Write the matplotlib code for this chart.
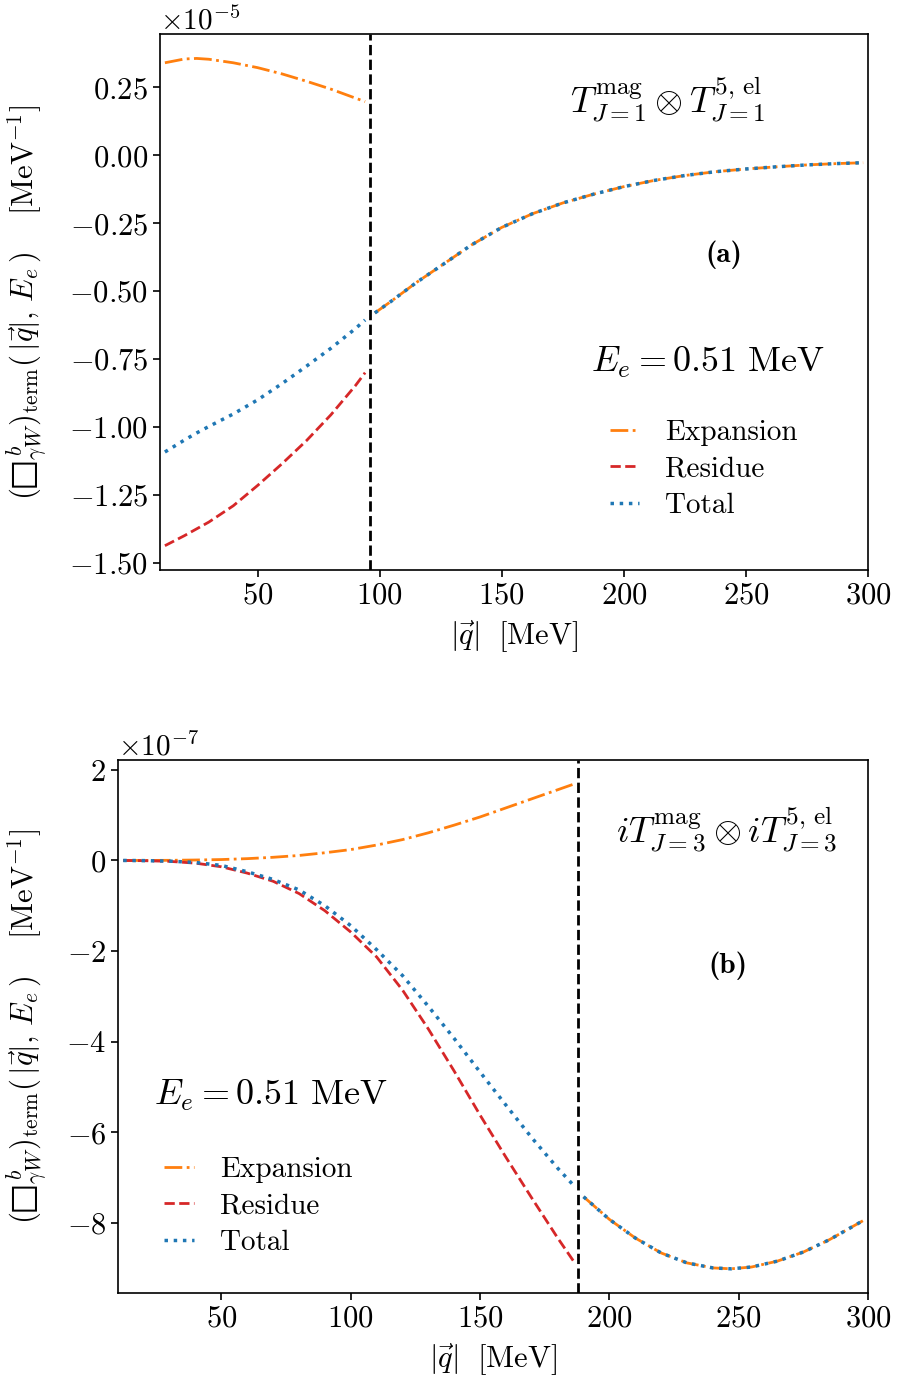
import matplotlib
matplotlib.use("Agg")
import matplotlib.pyplot as plt
import matplotlib.ticker as mticker
import numpy as np

plt.rcParams['font.family'] = 'serif'
plt.rcParams['font.serif'] = ['cmr10']
plt.rcParams['mathtext.fontset'] = 'cm'
plt.rcParams['axes.formatter.use_mathtext'] = True

# (a) T^mag_{J=1} x T^{5,el}_{J=1}, valores en 1e-5 MeV^-1
q_a_izq = [12, 20, 25, 30, 40, 50, 60, 70, 80, 90, 94]
exp_a_izq = [0.341, 0.355, 0.357, 0.354, 0.341, 0.323, 0.300, 0.273, 0.244, 0.211, 0.198]
res_a_izq = [-1.437, -1.400, -1.375, -1.350, -1.290, -1.215, -1.135, -1.050, -0.955, -0.848, -0.800]
tot_a_izq = [-1.092, -1.048, -1.022, -0.998, -0.952, -0.900, -0.840, -0.776, -0.710, -0.638, -0.606]
q_a_der = [98, 105, 115, 125, 137.5, 150, 162.5, 175, 187.5, 200, 212.5, 225, 237.5, 250, 262.5, 275, 287.5, 298]
tot_a_der = [-0.580, -0.535, -0.468, -0.407, -0.330, -0.265, -0.215, -0.175, -0.143, -0.115,
             -0.092, -0.074, -0.060, -0.050, -0.042, -0.035, -0.030, -0.027]
corte_a = 96

# (b) iT^mag_{J=3} x iT^{5,el}_{J=3}, valores en 1e-7 MeV^-1
q_b_izq = [12, 20, 30, 40, 50, 60, 70, 80, 90, 100, 110, 120, 130, 140, 150, 160, 170, 180, 186]
exp_b_izq = [0.0, 0.0, 0.003, 0.01, 0.02, 0.04, 0.07, 0.11, 0.17, 0.24, 0.34, 0.46, 0.61, 0.78,
             0.96, 1.16, 1.36, 1.56, 1.68]
res_b_izq = [0.0, -0.005, -0.02, -0.06, -0.14, -0.28, -0.46, -0.73, -1.11, -1.58, -2.13, -2.86,
             -3.72, -4.65, -5.62, -6.55, -7.45, -8.33, -8.83]
tot_b_izq = [0.0, -0.004, -0.015, -0.045, -0.11, -0.25, -0.42, -0.65, -1.00, -1.44, -1.97, -2.54,
             -3.22, -3.93, -4.67, -5.40, -6.12, -6.79, -7.16]
q_b_der = [190, 200, 210, 220, 230, 240, 247, 255, 265, 275, 285, 298]
tot_b_der = [-7.42, -7.92, -8.33, -8.66, -8.88, -8.99, -9.01, -8.97, -8.84, -8.64, -8.37, -7.95]
corte_b = 188

c_exp = '#ff7f0e'
c_res = '#d62728'
c_tot = '#1f77b4'
lw = 2.0

fig = plt.figure(figsize=(8.97, 13.85), dpi=100)
ax1 = fig.add_axes([0.1784, 0.5884, 0.7893, 0.3870])
ax2 = fig.add_axes([0.1316, 0.0664, 0.8361, 0.3848])

ylab = "$(\u25a1^{\\,b}_{\\gamma W})_{\\rm term}(\\,|\\vec{q}|,\\,E_e\\,)\\quad\\ [{\\rm MeV}^{-1}]$"
xlab = r"$|\vec{q}|\ \ [{\rm MeV}]$"

paneles = [
    (ax1, q_a_izq, exp_a_izq, res_a_izq, tot_a_izq, q_a_der, tot_a_der, corte_a, 1e-5),
    (ax2, q_b_izq, exp_b_izq, res_b_izq, tot_b_izq, q_b_der, tot_b_der, corte_b, 1e-7),
]

for ax, qi, ei, ri, ti, qd, td, corte, esc in paneles:
    qi = np.array(qi)
    qd = np.array(qd)
    ax.plot(qi, np.array(ei) * esc, color=c_exp, ls='-.', lw=lw, label='Expansion')
    ax.plot(qi, np.array(ri) * esc, color=c_res, ls='--', lw=lw, label='Residue')
    ax.plot(qi, np.array(ti) * esc, color=c_tot, ls=':', lw=lw + 0.5, label='Total')
    ax.plot(qd, np.array(td) * esc, color=c_exp, ls='-.', lw=lw)
    ax.plot(qd, np.array(td) * esc, color=c_tot, ls=':', lw=lw + 0.5)
    ax.axvline(corte, color='black', ls='--', lw=2)
    ax.set_xlim(10, 300)
    ax.set_xticks([50, 100, 150, 200, 250, 300])
    ax.tick_params(labelsize=22, width=1.2, length=5)
    ax.set_xlabel(xlab, fontsize=22, labelpad=7)
    ax.set_ylabel(ylab, fontsize=22)
    for s in ax.spines.values():
        s.set_linewidth(1.2)


class Fmt2(mticker.ScalarFormatter):
    def _set_format(self):
        super()._set_format()
        self.format = r'$\mathdefault{%1.2f}$'


f1 = Fmt2(useMathText=True)
f1.set_powerlimits((0, 0))
ax1.yaxis.set_major_formatter(f1)
f2 = mticker.ScalarFormatter(useMathText=True)
f2.set_powerlimits((0, 0))
ax2.yaxis.set_major_formatter(f2)
ax1.set_yticks(np.array([0.25, 0.0, -0.25, -0.5, -0.75, -1.0, -1.25, -1.5]) * 1e-5)
ax2.set_yticks(np.array([2, 0, -2, -4, -6, -8]) * 1e-7)
ax1.yaxis.get_offset_text().set_fontsize(21)
ax2.yaxis.get_offset_text().set_fontsize(21)

ax1.yaxis.set_label_coords(-0.155, 0.5)
ax2.yaxis.set_label_coords(-0.091, 0.5)

ax1.text(0.7175, 0.877, r"$T^{\rm mag}_{J=1}\otimes T^{5,\,{\rm el}}_{J=1}$", transform=ax1.transAxes,
         ha='center', va='center', fontsize=26)
ax1.text(0.797, 0.588, "(a)", family='cmb10', transform=ax1.transAxes, ha='center', va='center', fontsize=21)
ax1.text(0.773, 0.388, r"$E_e = 0.51\ {\rm MeV}$", transform=ax1.transAxes, ha='center', va='center', fontsize=26)
ax1.legend(loc='center', bbox_to_anchor=(0.768, 0.188), frameon=False, fontsize=21,
           handlelength=1.0, handletextpad=0.9, labelspacing=0.35)

ax2.text(0.812, 0.869, r"$iT^{\rm mag}_{J=3}\otimes iT^{5,\,{\rm el}}_{J=3}$", transform=ax2.transAxes,
         ha='center', va='center', fontsize=26)
ax2.text(0.813, 0.615, "(b)", family='cmb10', transform=ax2.transAxes, ha='center', va='center', fontsize=21)
ax2.text(0.203, 0.370, r"$E_e = 0.51\ {\rm MeV}$", transform=ax2.transAxes, ha='center', va='center', fontsize=26)
ax2.legend(loc='center', bbox_to_anchor=(0.187, 0.163), frameon=False, fontsize=21,
           handlelength=1.0, handletextpad=0.9, labelspacing=0.35)

fig.savefig("out.png", dpi=100)
